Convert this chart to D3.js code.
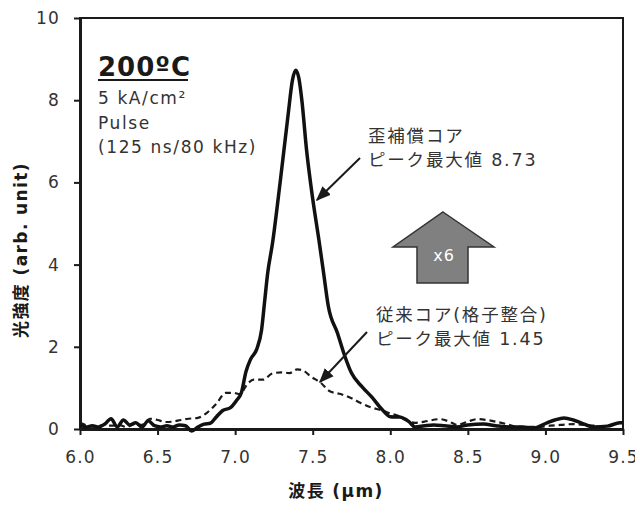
<!DOCTYPE html>
<html lang="ja">
<head>
<meta charset="UTF-8">
<title>光強度スペクトル</title>
<script src="https://d3js.org/d3.v7.min.js"></script>
<style>
  body { margin: 0; background: #fff; }
  svg text { font-family: "DejaVu Sans", "Noto Sans CJK JP", sans-serif; fill: #333; }
</style>
</head>
<body>
<div id="chart"></div>
<script>
// 歪補償コア (solid)
const solidWl = [6.00, 6.04, 6.08, 6.12, 6.16, 6.20, 6.24, 6.28, 6.32, 6.36, 6.40, 6.44, 6.48, 6.52, 6.56, 6.60,
  6.64, 6.68, 6.72, 6.76, 6.80, 6.84, 6.88, 6.92, 6.97, 7.01, 7.04, 7.07, 7.10, 7.14, 7.17, 7.19, 7.21, 7.24,
  7.29, 7.34, 7.37, 7.39, 7.41, 7.43, 7.46, 7.50, 7.54, 7.57, 7.60, 7.66, 7.70, 7.75, 7.82, 7.88, 7.95, 8.00,
  8.06, 8.12, 8.16, 8.22, 8.28, 8.35, 8.43, 8.50, 8.60, 8.68, 8.77, 8.85, 8.92, 9.01, 9.06, 9.12, 9.18, 9.23,
  9.31, 9.40, 9.48, 9.50];
const solidVal = [0.10, 0.05, 0.08, 0.05, 0.12, 0.25, 0.05, 0.22, 0.10, 0.15, 0.05, 0.20, 0.08, 0.05, 0.08, 0.05,
  0.10, 0.08, -0.05, 0.05, 0.12, 0.14, 0.30, 0.45, 0.52, 0.70, 0.88, 1.40, 1.70, 1.95, 2.40, 3.10, 3.80, 4.50,
  6.00, 7.60, 8.50, 8.73, 8.55, 8.00, 6.80, 5.60, 4.60, 3.80, 3.00, 2.33, 1.85, 1.36, 1.02, 0.78, 0.46, 0.30,
  0.29, 0.18, 0.05, 0.08, 0.10, 0.08, 0.05, 0.10, 0.12, 0.08, 0.05, 0.05, 0.02, 0.15, 0.22, 0.27, 0.22, 0.15,
  0.05, 0.07, 0.15, 0.15];

// 従来コア(格子整合) (dashed)
const dashWl = [6.00, 6.05, 6.10, 6.15, 6.20, 6.25, 6.30, 6.35, 6.40, 6.45, 6.50, 6.55, 6.60, 6.65, 6.70, 6.76,
  6.82, 6.88, 6.94, 6.99, 7.03, 7.08, 7.12, 7.18, 7.24, 7.30, 7.35, 7.40, 7.44, 7.49, 7.55, 7.61, 7.68, 7.75,
  7.81, 7.88, 7.94, 8.00, 8.05, 8.10, 8.16, 8.22, 8.32, 8.38, 8.43, 8.50, 8.56, 8.62, 8.69, 8.75, 8.82, 8.95,
  9.03, 9.10, 9.18, 9.25, 9.31, 9.37, 9.43, 9.48, 9.50];
const dashVal = [0.15, 0.08, 0.05, 0.10, 0.08, 0.10, 0.05, 0.12, 0.10, 0.25, 0.22, 0.17, 0.18, 0.22, 0.25, 0.27,
  0.40, 0.62, 0.88, 0.88, 0.85, 1.10, 1.20, 1.20, 1.35, 1.38, 1.36, 1.45, 1.42, 1.27, 1.13, 0.92, 0.85, 0.75,
  0.63, 0.52, 0.46, 0.38, 0.32, 0.22, 0.15, 0.18, 0.24, 0.18, 0.10, 0.18, 0.24, 0.22, 0.17, 0.12, 0.05, 0.05,
  0.08, 0.10, 0.12, 0.10, 0.08, 0.05, 0.10, 0.15, 0.15];

const xTicks = [6.0, 6.5, 7.0, 7.5, 8.0, 8.5, 9.0, 9.5];
const yTicks = [0, 2, 4, 6, 8, 10];

const W = 635, H = 506;
const margin = { top: 18, right: 12, bottom: 77, left: 80 };
const iw = W - margin.left - margin.right;
const ih = H - margin.top - margin.bottom;

const svg = d3.select("#chart").append("svg")
  .attr("width", W).attr("height", H);

const defs = svg.append("defs");
defs.append("marker")
  .attr("id", "head")
  .attr("markerUnits", "userSpaceOnUse")
  .attr("viewBox", "0 0 10 10")
  .attr("refX", 9).attr("refY", 5)
  .attr("markerWidth", 15).attr("markerHeight", 15)
  .attr("orient", "auto")
  .append("path").attr("d", "M0,1 L10,5 L0,9 Z").attr("fill", "#1a1a1a");

const g = svg.append("g").attr("transform", `translate(${margin.left},${margin.top})`);

const x = d3.scaleLinear().domain([6.0, 9.5]).range([0, iw]);
const y = d3.scaleLinear().domain([0, 10]).range([ih, 0]);

// frame (top/right thinner)
g.append("rect")
  .attr("x", 0).attr("y", 0).attr("width", iw).attr("height", ih)
  .attr("fill", "none").attr("stroke", "#1a1a1a").attr("stroke-width", 2);

const xAxis = g.append("g").attr("transform", `translate(0,${ih})`)
  .call(d3.axisBottom(x).tickValues(xTicks).tickFormat(d3.format(".1f")).tickSizeInner(6).tickSizeOuter(0).tickPadding(16));
const yAxis = g.append("g")
  .call(d3.axisLeft(y).tickValues(yTicks).tickSizeInner(6).tickSizeOuter(0).tickPadding(14));

[xAxis, yAxis].forEach(ax => {
  ax.select(".domain").attr("stroke", "#1a1a1a").attr("stroke-width", 3);
  ax.selectAll(".tick line").attr("stroke", "#1a1a1a").attr("stroke-width", 2);
  ax.selectAll(".tick text")
    .attr("fill", "#333").attr("font-size", 17).attr("letter-spacing", 1.2)
    .style("font-family", '"DejaVu Sans", sans-serif');
});

// curves
const line = d3.line()
  .x(d => x(d[0])).y(d => y(d[1]))
  .curve(d3.curveMonotoneX);

g.append("path")
  .datum(dashWl.map((w, i) => [w, dashVal[i]]))
  .attr("d", line)
  .attr("fill", "none").attr("stroke", "#1a1a1a").attr("stroke-width", 2.2)
  .attr("stroke-dasharray", "6,4");

g.append("path")
  .datum(solidWl.map((w, i) => [w, solidVal[i]]))
  .attr("d", line)
  .attr("fill", "none").attr("stroke", "#111").attr("stroke-width", 3.5)
  .attr("stroke-linejoin", "round");

// axis titles
svg.append("text")
  .attr("x", 336).attr("y", 497)
  .attr("text-anchor", "middle")
  .attr("font-size", 17).attr("font-weight", "bold").attr("letter-spacing", 1.4)
  .style("fill", "#1a1a1a")
  .text("波長 (µm)");

svg.append("text")
  .attr("transform", "translate(27,250) rotate(-90)")
  .attr("text-anchor", "middle")
  .attr("font-size", 17).attr("font-weight", "bold").attr("letter-spacing", 1.4)
  .style("fill", "#1a1a1a")
  .text("光強度 (arb. unit)");

// condition block (upper left)
const cond = svg.append("g").attr("transform", "translate(98,0)");
cond.append("text")
  .attr("x", 0).attr("y", 76)
  .attr("font-size", 26).attr("font-weight", "bold").attr("letter-spacing", 1)
  .style("fill", "#1a1a1a")
  .text("200ºC");
cond.append("line")
  .attr("x1", 0).attr("x2", 90).attr("y1", 80).attr("y2", 80)
  .attr("stroke", "#1a1a1a").attr("stroke-width", 2);
const condLines = ["5 kA/cm²", "Pulse", "(125 ns/80 kHz)"];
cond.selectAll("text.c").data(condLines).enter().append("text")
  .attr("class", "c")
  .attr("x", 0).attr("y", (d, i) => 104 + i * 24.5)
  .attr("font-size", 17).attr("letter-spacing", 1.6)
  .text(d => d);

// peak labels
function label(x0, y0, lines) {
  svg.selectAll(null).data(lines).enter().append("text")
    .attr("x", x0).attr("y", (d, i) => y0 + i * 24)
    .attr("font-size", 17.5).attr("letter-spacing", 1.8)
    .text(d => d);
}
label(368, 142, ["歪補償コア", "ピーク最大値 8.73"]);
label(376, 321, ["従来コア(格子整合)", "ピーク最大値 1.45"]);

// pointer arrows
svg.append("line")
  .attr("x1", 360).attr("y1", 158).attr("x2", 317).attr("y2", 200)
  .attr("stroke", "#1a1a1a").attr("stroke-width", 2).attr("marker-end", "url(#head)");
svg.append("line")
  .attr("x1", 367).attr("y1", 332).attr("x2", 320).attr("y2", 382)
  .attr("stroke", "#1a1a1a").attr("stroke-width", 2).attr("marker-end", "url(#head)");

// x6 block arrow
svg.append("path")
  .attr("d", "M443,212 L494,247 L468,247 L468,283 L417,283 L417,247 L393,247 Z")
  .attr("fill", "#808080").attr("stroke", "#333").attr("stroke-width", 1.5)
  .attr("stroke-linejoin", "miter");
svg.append("text")
  .attr("x", 444).attr("y", 261)
  .attr("text-anchor", "middle")
  .attr("font-size", 16).attr("letter-spacing", 1)
  .style("fill", "#fff")
  .text("x6");
</script>
</body>
</html>
